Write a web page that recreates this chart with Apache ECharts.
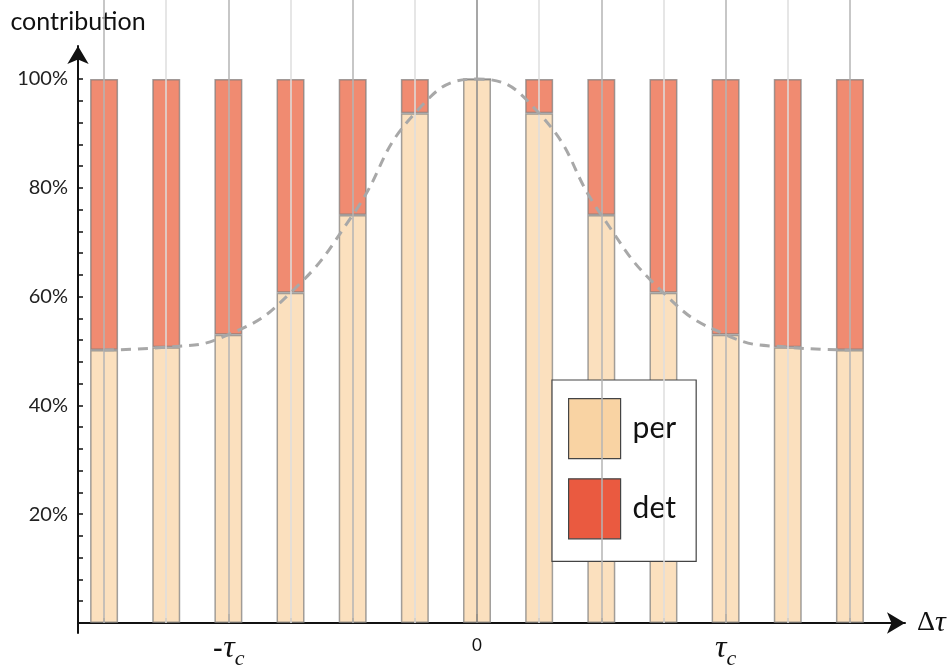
<!DOCTYPE html>
<html>
<head>
<meta charset="utf-8">
<script src="https://cdn.jsdelivr.net/npm/echarts@6/dist/echarts.min.js"></script>
<style>
  html, body { margin: 0; padding: 0; background: #fff; }
  #main { width: 952px; height: 671px; }
</style>
</head>
<body>
<div id="main"></div>
<script>
// bar positions (units of the bar step, tau_c = 4 steps)
var xPos = [-6, -5, -4, -3, -2, -1, 0, 1, 2, 3, 4, 5, 6];
// share of "per" (%)
var perVals = [50.2, 50.7, 53.0, 60.7, 75.0, 93.7, 100, 93.7, 75.0, 60.7, 53.0, 50.7, 50.2];
// share of "det" (%)
var detVals = [49.8, 49.3, 47.0, 39.3, 25.0, 6.3, 0, 6.3, 25.0, 39.3, 47.0, 49.3, 49.8];
// y tick marks and labels
var yTicks = [4, 8, 12, 16, 20, 24, 28, 32, 36, 40, 44, 48, 52, 56, 60, 64, 68, 72, 76, 80, 84, 88, 92, 96, 100];
var yLabels = [20, 40, 60, 80, 100];
// x labelled positions
var xMajor = [-4, 0, 4];

var chart = echarts.init(document.getElementById('main'));

var X_MIN = -6.418, X_MAX = 6.884;
var Y_MIN = -1.84, Y_MAX = 106.07;
var font = 'Lato';

// thin vertical guide lines
var guideLines = [];
for (var i = 0; i < xPos.length; i++) {
    var c = xPos[i] === 0 ? '#8a8a8a' : (xPos[i] % 2 === 0 ? '#b4b4b4' : '#dedede');
    guideLines.push({ xAxis: xPos[i], lineStyle: { color: c, width: 1.5, type: 'solid' } });
}

var option = {
    animation: false,
    backgroundColor: '#fff',
    grid: [
        { left: 78, right: 47, top: 46, bottom: 38, outerBoundsMode: 'none' },   // visible axes
        { left: 78, right: 47, top: 0, bottom: 48, outerBoundsMode: 'none' },    // guide lines
        { left: 73, right: 71, top: 46, bottom: 38, outerBoundsMode: 'none' }    // bars + curve
    ],
    legend: {
        orient: 'vertical',
        left: 552,
        top: 380,
        icon: 'rect',
        itemWidth: 52,
        itemHeight: 60,
        itemGap: 19,
        padding: [18, 20, 22, 16],
        backgroundColor: '#fff',
        borderColor: '#444',
        borderWidth: 1.2,
        textStyle: { fontFamily: font, fontSize: 30, color: '#111', padding: [0, 0, 0, 7] },
        data: [
            { name: 'per', itemStyle: { color: '#F9D3A3', opacity: 1, borderColor: '#444', borderWidth: 1.2 } },
            { name: 'det', itemStyle: { color: '#EA5A40', opacity: 1, borderColor: '#444', borderWidth: 1.2 } }
        ]
    },
    xAxis: [
        {
            type: 'value', gridIndex: 0, min: X_MIN, max: X_MAX,
            name: '{d|Δ}{t|τ}',
            nameLocation: 'end',
            nameGap: 12,
            nameTextStyle: {
                rich: {
                    d: { fontFamily: 'Liberation Serif', fontSize: 28, color: '#111' },
                    t: { fontFamily: 'Liberation Serif', fontStyle: 'italic', fontSize: 30, color: '#111' }
                }
            },
            axisLine: {
                onZero: true,
                symbol: ['none', 'arrow'],
                symbolSize: [16, 18],
                lineStyle: { color: '#111', width: 2 }
            },
            axisTick: {
                customValues: xPos, inside: true, length: 5,
                lineStyle: { color: '#111', width: 1.5 }
            },
            axisLabel: {
                customValues: xMajor,
                margin: -5,
                formatter: function (v) {
                    if (v === 0) return '{z|0}';
                    if (v < 0) return '{m|-}{t|τ}{s|c}';
                    return '{t|τ}{s|c}';
                },
                rich: {
                    z: { fontFamily: font, fontSize: 17, color: '#111', padding: [9, 0, 0, 0] },
                    m: { fontFamily: font, fontSize: 30, color: '#111' },
                    t: { fontFamily: 'Liberation Serif', fontStyle: 'italic', fontSize: 32, color: '#111' },
                    s: { fontFamily: 'Liberation Serif', fontStyle: 'italic', fontSize: 22, color: '#111', padding: [20, 0, 0, 0] }
                }
            },
            splitLine: { show: false }
        },
        {
            type: 'value', gridIndex: 0, min: X_MIN, max: X_MAX,
            position: 'bottom', offset: -10,
            axisLine: { show: false, onZero: false },
            axisTick: {
                customValues: xMajor, inside: true, length: 9,
                lineStyle: { color: '#111', width: 1.5 }
            },
            axisLabel: { show: false },
            splitLine: { show: false }
        },
        {
            type: 'value', gridIndex: 1, min: X_MIN, max: X_MAX, show: false
        },
        {
            type: 'category', gridIndex: 2, data: xPos, boundaryGap: true, show: false
        }
    ],
    yAxis: [
        {
            type: 'value', gridIndex: 0, min: Y_MIN, max: Y_MAX,
            name: 'contribution',
            nameLocation: 'end',
            nameGap: 12,
            nameTextStyle: { fontFamily: font, fontSize: 25, color: '#111' },
            axisLine: {
                show: true, onZero: false,
                symbol: ['none', 'arrow'],
                symbolSize: [16, 18],
                lineStyle: { color: '#111', width: 2 }
            },
            axisTick: {
                customValues: yTicks, inside: true, length: 5,
                lineStyle: { color: '#111', width: 1.5 }
            },
            axisLabel: {
                customValues: yLabels,
                margin: 10,
                fontFamily: font, fontSize: 20, color: '#222',
                formatter: '{value}%'
            },
            splitLine: { show: false }
        },
        {
            type: 'value', gridIndex: 1, min: 0, max: 1, show: false
        },
        {
            type: 'value', gridIndex: 2, min: Y_MIN, max: Y_MAX, show: false
        }
    ],
    series: [
        {
            name: 'guides',
            type: 'line',
            xAxisIndex: 2, yAxisIndex: 1,
            z: 1,
            data: [[0, 0]],
            showSymbol: false,
            lineStyle: { opacity: 0 },
            silent: true,
            markLine: {
                silent: true,
                symbol: 'none',
                label: { show: false },
                data: guideLines
            }
        },
        {
            name: 'per',
            type: 'bar',
            xAxisIndex: 3, yAxisIndex: 2,
            stack: 'total',
            barWidth: 28,
            data: perVals,
            itemStyle: { color: '#F9D3A3', opacity: 0.7, borderColor: '#7a7a7a', borderWidth: 1.5 }
        },
        {
            name: 'det',
            type: 'bar',
            xAxisIndex: 3, yAxisIndex: 2,
            stack: 'total',
            barWidth: 28,
            data: detVals,
            itemStyle: { color: '#EA5A35', opacity: 0.7, borderColor: '#7a7a7a', borderWidth: 1.5 }
        },
        {
            name: 'curve',
            type: 'line',
            xAxisIndex: 3, yAxisIndex: 2,
            smooth: 0.5,
            showSymbol: false,
            z: 5,
            data: perVals,
            lineStyle: { color: '#a8a8a8', width: 3, type: [10, 7] }
        }
    ]
};

chart.setOption(option);
window.onresize = function () { chart.resize(); };
</script>
</body>
</html>
